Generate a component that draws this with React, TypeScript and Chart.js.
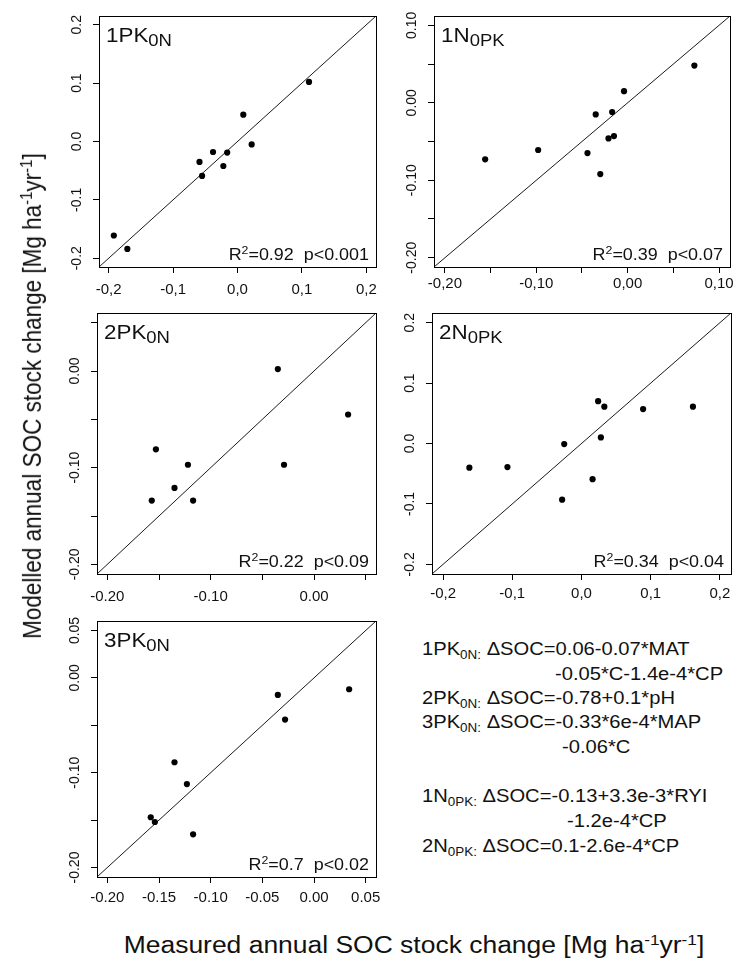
import React, { useEffect, useRef } from "react";
import { Chart, registerables } from "chart.js";

Chart.register(...registerables);

const FONT = "'Liberation Sans', Arial, Helvetica, sans-serif";

// ---------------- data ----------------
const panelNames = ["1PK", "1N", "2PK", "2N", "3PK"];
const panelSubs = ["0N", "0PK", "0N", "0PK", "0N"];
const r2Values = ["0.92", "0.39", "0.22", "0.34", "0.7"];
const pValues = ["0.001", "0.07", "0.09", "0.04", "0.02"];

// 1PK0N
const measured1PK = [-0.192, -0.171, -0.059, -0.055, -0.038, -0.022, -0.016, 0.009, 0.022, 0.111];
const modelled1PK = [-0.161, -0.184, -0.035, -0.059, -0.018, -0.042, -0.019, 0.046, -0.005, 0.102];
// 1N0PK
const measured1N = [-0.156, -0.098, -0.044, -0.035, -0.030, -0.021, -0.017, -0.015, -0.004, 0.073];
const modelled1N = [-0.073, -0.061, -0.065, -0.015, -0.092, -0.046, -0.012, -0.043, 0.015, 0.048];
// 2PK0N
const measured2PK = [-0.157, -0.153, -0.135, -0.122, -0.117, -0.035, -0.029, 0.033];
const modelled2PK = [-0.134, -0.081, -0.121, -0.097, -0.134, 0.002, -0.097, -0.045];
// 2N0PK
const measured2N = [-0.162, -0.107, -0.028, -0.025, 0.016, 0.024, 0.028, 0.033, 0.089, 0.161];
const modelled2N = [-0.040, -0.039, -0.093, -0.001, -0.059, 0.070, 0.010, 0.061, 0.057, 0.061];
// 3PK0N
const measured3PK = [-0.158, -0.154, -0.135, -0.123, -0.117, -0.035, -0.028, 0.034];
const modelled3PK = [-0.147, -0.152, -0.089, -0.112, -0.165, -0.018, -0.044, -0.012];

const measured = [measured1PK, measured1N, measured2PK, measured2N, measured3PK];
const modelled = [modelled1PK, modelled1N, modelled2PK, modelled2N, modelled3PK];

// axis limits (same for x and y in each panel)
const axisLimits = [
  [-0.215, 0.215],
  [-0.212, 0.112],
  [-0.21, 0.06],
  [-0.216, 0.216],
  [-0.21, 0.06],
];

const ticksWide = [-0.2, -0.1, 0, 0.1, 0.2];
const ticksMid = [-0.2, -0.15, -0.1, -0.05, 0, 0.05, 0.1];
const ticksNarrow = [-0.2, -0.15, -0.1, -0.05, 0, 0.05];
const tickValues = [ticksWide, ticksMid, ticksNarrow, ticksWide, ticksNarrow];

const xTickLabels = [
  ["-0,2", "-0,1", "0,0", "0,1", "0,2"],
  ["-0,20", "", "-0,10", "", "0,00", "", "0,10"],
  ["-0.20", "", "-0.10", "", "0.00", ""],
  ["-0,2", "-0,1", "0,0", "0,1", "0,2"],
  ["-0.20", "-0.15", "-0.10", "-0.05", "0.00", "0.05"],
];
const yTickLabels = [
  ["-0.2", "-0.1", "0.0", "0.1", "0.2"],
  ["-0.20", "", "-0.10", "", "0.00", "", "0.10"],
  ["-0.20", "", "-0.10", "", "0.00", ""],
  ["-0.2", "-0.1", "0.0", "0.1", "0.2"],
  ["-0.20", "", "-0.10", "", "0.00", "0.05"],
];

const equationLines = [
  { lead: "1PK", sub: "0N:", text: " ΔSOC=0.06-0.07*MAT" },
  { lead: "", sub: "", text: "-0.05*C-1.4e-4*CP" },
  { lead: "2PK", sub: "0N:", text: " ΔSOC=-0.78+0.1*pH" },
  { lead: "3PK", sub: "0N:", text: " ΔSOC=-0.33*6e-4*MAP" },
  { lead: "", sub: "", text: "-0.06*C" },
  { lead: "1N", sub: "0PK:", text: " ΔSOC=-0.13+3.3e-3*RYI" },
  { lead: "", sub: "", text: "-1.2e-4*CP" },
  { lead: "2N", sub: "0PK:", text: " ΔSOC=0.1-2.6e-4*CP" },
];

// ---------------- layout ----------------
const LW = 60;
const TP = 15;
const RP = 15;
const BH = 40;
const TICK = 6;
const SX = 1.12;

const panelAreas = [
  { l: 99, t: 16, r: 376, b: 267 },
  { l: 434, t: 16, r: 730, b: 267 },
  { l: 97, t: 313, r: 376, b: 574 },
  { l: 432, t: 313, r: 731, b: 574 },
  { l: 97, t: 621, r: 376, b: 877 },
];
const xLabelOffsets = [23, 17, 23, 20, 21];
const equationPos = [
  { x: 422, y: 655 },
  { x: 555, y: 680 },
  { x: 422, y: 704 },
  { x: 422, y: 728 },
  { x: 562, y: 753 },
  { x: 422, y: 802 },
  { x: 567, y: 827 },
  { x: 422, y: 852 },
];

let measureCtx: CanvasRenderingContext2D | null = null;
function textWidth(s: string, size: number) {
  if (!measureCtx) measureCtx = document.createElement("canvas").getContext("2d");
  measureCtx!.font = `${size}px ${FONT}`;
  return measureCtx!.measureText(s).width;
}

const panelDecor = {
  id: "panelDecor",
  afterDatasetsDraw(chart: any, _args: any, opts: any) {
    const { ctx, chartArea: a } = chart;
    ctx.save();
    ctx.strokeStyle = "#000";
    ctx.lineWidth = 1;
    ctx.strokeRect(a.left + 0.5, a.top + 0.5, a.right - a.left, a.bottom - a.top);

    ctx.fillStyle = "#111";
    ctx.textAlign = "left";
    ctx.textBaseline = "alphabetic";

    // title
    ctx.save();
    ctx.translate(a.left + 7, a.top + 26);
    ctx.scale(SX, 1);
    ctx.font = `20px ${FONT}`;
    ctx.fillText(opts.title, 0, 0);
    const tw = ctx.measureText(opts.title).width;
    ctx.font = `16.5px ${FONT}`;
    ctx.fillText(opts.sub, tw, 4);
    ctx.restore();

    // R2 / p text
    const rest = `=${opts.r2}  p<${opts.p}`;
    ctx.font = `16px ${FONT}`;
    const wR = ctx.measureText("R").width;
    const wRest = ctx.measureText(rest).width;
    ctx.font = `11px ${FONT}`;
    const w2 = ctx.measureText("2").width;
    const total = (wR + w2 + wRest) * SX;
    ctx.save();
    ctx.translate(a.right - 7 - total, a.bottom - 7);
    ctx.scale(SX, 1);
    ctx.font = `16px ${FONT}`;
    ctx.fillText("R", 0, 0);
    ctx.font = `11px ${FONT}`;
    ctx.fillText("2", wR, -6);
    ctx.font = `16px ${FONT}`;
    ctx.fillText(rest, wR + w2, 0);
    ctx.restore();

    ctx.restore();
  },
};

function buildConfig(i: number): any {
  const [lo, hi] = axisLimits[i];
  const xs = measured[i];
  const ys = modelled[i];
  const tv = tickValues[i];
  const xl = xTickLabels[i];
  const yl = yTickLabels[i];
  const widest = Math.max(...yl.map((s) => textWidth(s, 14)));
  const yPad = Math.max(0, 22 - TICK - widest / 2);
  const xPad = xLabelOffsets[i] - TICK - 9;
  return {
    type: "scatter",
    data: {
      datasets: [
        {
          data: [
            { x: lo, y: lo },
            { x: hi, y: hi },
          ],
          showLine: true,
          borderColor: "#1a1a1a",
          backgroundColor: "#1a1a1a",
          borderWidth: 1,
          pointRadius: 0,
          tension: 0,
          order: 2,
        },
        {
          data: xs.map((x, k) => ({ x, y: ys[k] })),
          showLine: false,
          pointRadius: 3.1,
          pointBackgroundColor: "#000",
          pointBorderColor: "#000",
          pointBorderWidth: 0,
          order: 1,
        },
      ],
    },
    options: {
      animation: false,
      responsive: false,
      devicePixelRatio: 1,
      events: [],
      layout: { padding: { top: TP, right: RP, left: 0, bottom: 0 } },
      plugins: {
        legend: { display: false },
        tooltip: { enabled: false },
        panelDecor: { title: panelNames[i], sub: panelSubs[i], r2: r2Values[i], p: pValues[i] },
      },
      scales: {
        x: {
          type: "linear",
          position: "bottom",
          min: lo,
          max: hi,
          afterBuildTicks: (s: any) => {
            s.ticks = tv.map((v) => ({ value: v }));
          },
          afterFit: (s: any) => {
            s.height = BH;
          },
          ticks: {
            autoSkip: false,
            minRotation: 0,
            maxRotation: 0,
            padding: xPad,
            color: "#111",
            font: { family: FONT, size: 15 },
            callback: (_v: any, idx: number) => xl[idx],
          },
          grid: { display: true, drawOnChartArea: false, drawTicks: true, tickLength: TICK, color: "#000", lineWidth: 1 },
          border: { display: true, color: "#000", width: 1 },
        },
        y: {
          type: "linear",
          position: "left",
          min: lo,
          max: hi,
          afterBuildTicks: (s: any) => {
            s.ticks = tv.map((v) => ({ value: v }));
          },
          afterFit: (s: any) => {
            s.width = LW;
          },
          ticks: {
            autoSkip: false,
            minRotation: 90,
            maxRotation: 90,
            crossAlign: "center",
            padding: yPad,
            color: "#111",
            font: { family: FONT, size: 14 },
            callback: (_v: any, idx: number) => yl[idx],
          },
          grid: { display: true, drawOnChartArea: false, drawTicks: true, tickLength: TICK, color: "#000", lineWidth: 1 },
          border: { display: true, color: "#000", width: 1 },
        },
      },
    },
    plugins: [panelDecor],
  };
}

function Panel({ index }: { index: number }) {
  const ref = useRef<HTMLCanvasElement>(null);
  const { l, t, r, b } = panelAreas[index];
  const w = r - l + LW + RP;
  const h = b - t + TP + BH;
  useEffect(() => {
    const chart = new Chart(ref.current!, buildConfig(index));
    return () => chart.destroy();
  }, [index]);
  return (
    <canvas
      ref={ref}
      width={w}
      height={h}
      style={{ position: "absolute", left: l - LW, top: t - TP, width: w, height: h }}
    />
  );
}

const EQ_SIZE = 18;

export default function App() {
  return (
    <div
      style={{
        position: "absolute",
        left: 0,
        top: 0,
        width: 737,
        height: 966,
        background: "#fff",
        overflow: "hidden",
        fontFamily: FONT,
        color: "#111",
      }}
    >
      {panelAreas.map((_, i) => (
        <Panel key={i} index={i} />
      ))}

      {equationLines.map((ln, i) => (
        <div
          key={i}
          style={{
            position: "absolute",
            left: equationPos[i].x,
            top: equationPos[i].y - 0.85 * EQ_SIZE,
            fontSize: EQ_SIZE,
            lineHeight: 1,
            whiteSpace: "nowrap",
            transform: `scaleX(${SX})`,
            transformOrigin: "left top",
          }}
        >
          {ln.lead}
          {ln.sub && <span style={{ fontSize: 12, position: "relative", top: 4 }}>{ln.sub}</span>}
          {ln.text}
        </div>
      ))}

      <div
        style={{
          position: "absolute",
          left: 33,
          top: 396,
          fontSize: 22.5,
          lineHeight: 1,
          whiteSpace: "nowrap",
          transform: "translate(-50%, -50%) rotate(-90deg) scaleY(1.12)",
        }}
      >
        Modelled annual SOC stock change [Mg ha<span style={{ fontSize: 15, position: "relative", top: -8 }}>-1</span>yr
        <span style={{ fontSize: 15, position: "relative", top: -8 }}>-1</span>]
      </div>

      <div
        style={{
          position: "absolute",
          left: 414,
          top: 945,
          fontSize: 23,
          lineHeight: 1,
          whiteSpace: "nowrap",
          transform: "translate(-50%, -50%) scaleX(1.15)",
        }}
      >
        Measured annual SOC stock change [Mg ha<span style={{ fontSize: 15, position: "relative", top: -8 }}>-1</span>yr
        <span style={{ fontSize: 15, position: "relative", top: -8 }}>-1</span>]
      </div>
    </div>
  );
}
